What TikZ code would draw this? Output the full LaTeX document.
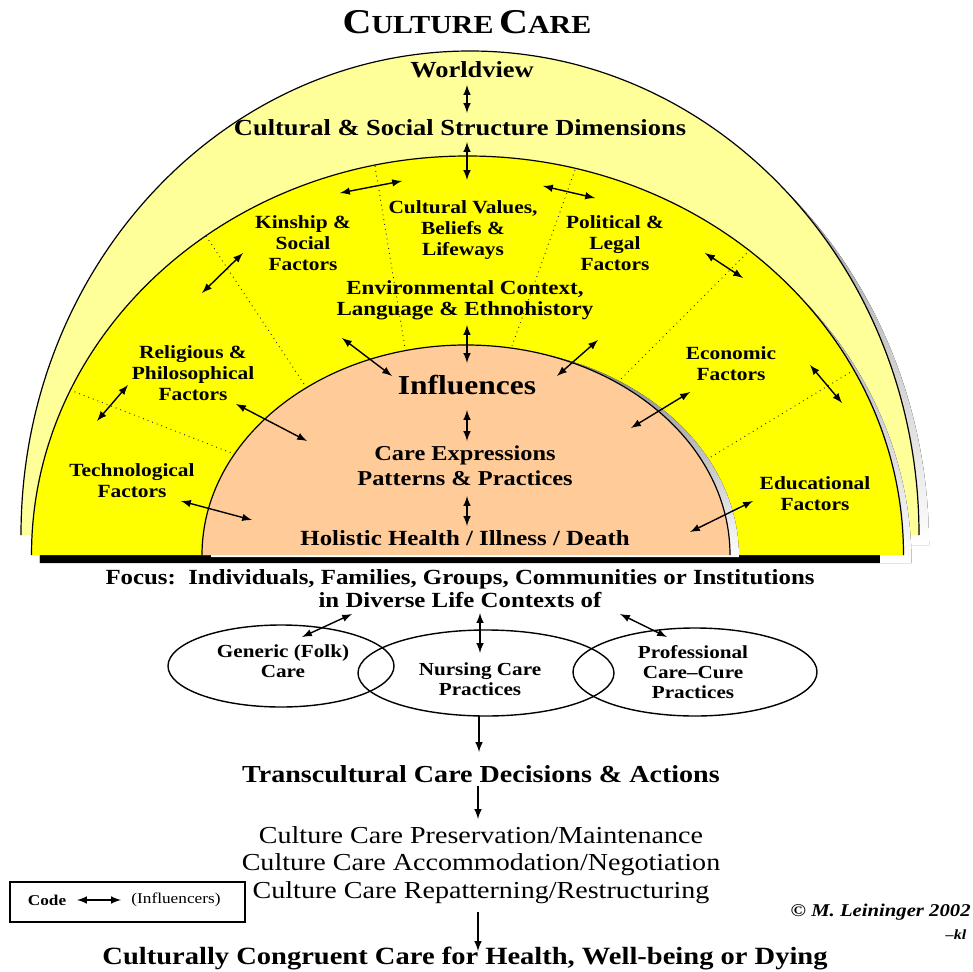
\documentclass[tikz,border=0pt]{standalone}
\usepackage{fontspec}
\setmainfont{Liberation Serif}[FakeStretch=1.15]
\usepackage{xcolor}
\usepackage{tikz}
\definecolor{paleyellow}{HTML}{FFFF99}
\definecolor{sunyellow}{HTML}{FFFF00}
\definecolor{peach}{HTML}{FFCC99}
\definecolor{shade}{HTML}{7A7A7A}

\begin{document}
\begin{tikzpicture}[
    x=0.5pt, y=0.5pt,
    >=latex,
    every node/.style={align=center, inner sep=0pt},
    infl/.style={<->, line width=0.7pt},
    down/.style={->, line width=0.7pt},
    rim/.style={draw=black, line width=0.6pt},
    divide/.style={dotted, line width=0.45pt, black!85},
    lobe/.style={draw, line width=0.7pt},
    head/.style={font=\bfseries\fontsize{11.5}{13}\selectfont},
    sector/.style={font=\bfseries\fontsize{9.3}{10.5}\selectfont},
    mid/.style={font=\bfseries\fontsize{10.6}{12.5}\selectfont},
    lobetext/.style={font=\bfseries\fontsize{9.2}{10}\selectfont}
]
\useasboundingbox (0,0) rectangle (973,971);

\fill[shade] (31,426) arc[start angle=180, end angle=0, x radius=449, y radius=484] -- cycle;
\fill[paleyellow] (21,436) arc[start angle=180, end angle=0, x radius=449, y radius=484] -- cycle;
\draw[rim] (21,436) arc[start angle=180, end angle=0, x radius=449, y radius=484];

\fill[shade] (39.5,408) arc[start angle=180, end angle=0, x radius=436, y radius=399] -- cycle;
\fill[black] (40,408) rectangle (880,416);
\fill[sunyellow] (31.5,416) arc[start angle=180, end angle=0, x radius=436, y radius=399] -- cycle;
\draw[rim] (31.5,416) arc[start angle=180, end angle=0, x radius=436, y radius=399];

\draw[divide] (375,805) -- (405,623);
\draw[divide] (575,801) -- (512,625);
\draw[divide] (206,735) -- (306,584);
\draw[divide] (750,721) -- (619,590);
\draw[divide] (70,581) -- (234,517);
\draw[divide] (854,601) -- (706,511);

\fill[shade] (211,414) arc[start angle=180, end angle=0, x radius=264, y radius=210] -- cycle;
\fill[peach] (202,416) arc[start angle=180, end angle=0, x radius=264, y radius=210] -- cycle;
\draw[rim] (202,416) arc[start angle=180, end angle=0, x radius=264, y radius=210];

\node[font=\bfseries] (title) at (467,949) {{\fontsize{17.4}{18}\selectfont C}{\fontsize{13}{14}\selectfont ULTURE} {\fontsize{17.4}{18}\selectfont C}{\fontsize{13}{14}\selectfont ARE}};
\node[head] (world) at (472,901) {Worldview};
\node[head] (csd) at (460,843) {Cultural \& Social Structure Dimensions};
\node[sector] (kin) at (303,728) {Kinship \&\\Social\\Factors};
\node[sector] (cvb) at (463,741) {Cultural Values,\\Beliefs \&\\Lifeways};
\node[sector] (pol) at (615,728) {Political \&\\Legal\\Factors};
\node[font=\bfseries\fontsize{10}{10.5}\selectfont] (env) at (465,671) {Environmental Context,\\Language \& Ethnohistory};
\node[font=\bfseries\fontsize{13.7}{15}\selectfont] (influences) at (467,586) {Influences};
\node[sector] (rel) at (193,598) {Religious \&\\Philosophical\\Factors};
\node[sector] (eco) at (731,607) {Economic\\Factors};
\node[mid] (care) at (465,505) {Care Expressions\\Patterns \& Practices};
\node[sector] (tech) at (132,490) {Technological\\Factors};
\node[sector] (edu) at (815,477) {Educational\\Factors};
\node[font=\bfseries\fontsize{10.8}{12}\selectfont] (hol) at (465,433) {Holistic Health / Illness / Death};
\node[font=\bfseries\fontsize{10.8}{11.5}\selectfont] (focus) at (460,382) {Focus:\ \ Individuals, Families, Groups, Communities or Institutions\\in Diverse Life Contexts of};

\coordinate (genc) at (281,305);
\coordinate (nurc) at (486,298);
\coordinate (proc) at (695,299);
\draw[lobe] (genc) ellipse [x radius=113, y radius=41];
\draw[lobe] (nurc) ellipse [x radius=128, y radius=43];
\draw[lobe] (proc) ellipse [x radius=122, y radius=44];
\node[lobetext] (gen) at (283,310) {Generic (Folk)\\Care};
\node[lobetext] (nur) at (480,292) {Nursing Care\\Practices};
\node[lobetext] (pro) at (693,299) {Professional\\Care--Cure\\Practices};

\node[font=\bfseries\fontsize{12.2}{14}\selectfont] (trans) at (481,197) {Transcultural Care Decisions \& Actions};
\node[font=\fontsize{12.2}{13.75}\selectfont] (modes) at (481,106) {Culture Care Preservation/Maintenance\\Culture Care Accommodation/Negotiation\\Culture Care Repatterning/Restructuring};
\node[font=\bfseries\fontsize{12.4}{14}\selectfont] (cong) at (465,13) {Culturally Congruent Care for Health, Well-being or Dying};

\path (10,49) coordinate (cb1) (245,89) coordinate (cb2);
\draw[line width=0.6pt] (cb1) rectangle (cb2);
\node[font=\bfseries\fontsize{7.5}{8}\selectfont] (code) at (47,71) {Code};
\node[font=\fontsize{7.5}{8}\selectfont] (who) at (176,71) {(Influencers)};
\node[font=\bfseries\itshape\fontsize{9}{10}\selectfont, anchor=east] (copy) at (971,59) {\textcopyright{} M. Leininger 2002};
\node[font=\bfseries\itshape\fontsize{7}{8}\selectfont] (kl) at (956,36) {--kl};

\path (467,886) coordinate (wv1) (467,858) coordinate (wv2);
\path (467,829) coordinate (cs1) (467,791) coordinate (cs2);
\path (340,778) coordinate (kc1) (402,790) coordinate (kc2);
\path (543,785) coordinate (cp1) (595,773) coordinate (cp2);
\path (202,678) coordinate (kr1) (243,718) coordinate (kr2);
\path (705,718) coordinate (pe1) (743,693) coordinate (pe2);
\path (342,633) coordinate (el1) (392,595) coordinate (el2);
\path (467,646) coordinate (em1) (467,608) coordinate (em2);
\path (598,631) coordinate (er1) (557,595) coordinate (er2);
\path (97,550) coordinate (rl1) (128,586) coordinate (rl2);
\path (236,567) coordinate (ri1) (307,530) coordinate (ri2);
\path (810,606) coordinate (eo1) (842,568) coordinate (eo2);
\path (690,579) coordinate (ei1) (631,543) coordinate (ei2);
\path (467,561) coordinate (ic1) (467,530) coordinate (ic2);
\path (467,475) coordinate (ch1) (467,445) coordinate (ch2);
\path (181,470) coordinate (ti1) (252,451) coordinate (ti2);
\path (753,470) coordinate (di1) (690,439) coordinate (di2);
\path (352,357) coordinate (fg1) (302,334) coordinate (fg2);
\path (480,358) coordinate (fn1) (480,318) coordinate (fn2);
\path (620,357) coordinate (fp1) (667,334) coordinate (fp2);
\path (479,255) coordinate (nt1) (479,219) coordinate (nt2);
\path (478,185) coordinate (tm1) (478,152) coordinate (tm2);
\path (478,59) coordinate (mc1) (478,20) coordinate (mc2);
\path (77,71) coordinate (cd1) (121,71) coordinate (cd2);

\draw[infl] (wv1) -- (wv2);
\draw[infl] (cs1) -- (cs2);
\draw[infl] (kc1) -- (kc2);
\draw[infl] (cp1) -- (cp2);
\draw[infl] (kr1) -- (kr2);
\draw[infl] (pe1) -- (pe2);
\draw[infl] (el1) -- (el2);
\draw[infl] (em1) -- (em2);
\draw[infl] (er1) -- (er2);
\draw[infl] (rl1) -- (rl2);
\draw[infl] (ri1) -- (ri2);
\draw[infl] (eo1) -- (eo2);
\draw[infl] (ei1) -- (ei2);
\draw[infl] (ic1) -- (ic2);
\draw[infl] (ch1) -- (ch2);
\draw[infl] (ti1) -- (ti2);
\draw[infl] (di1) -- (di2);
\draw[infl] (fg1) -- (fg2);
\draw[infl] (fn1) -- (fn2);
\draw[infl] (fp1) -- (fp2);
\draw[down] (nt1) -- (nt2);
\draw[down] (tm1) -- (tm2);
\draw[down] (mc1) -- (mc2);
\draw[infl] (cd1) -- (cd2);
\end{tikzpicture}
\end{document}
